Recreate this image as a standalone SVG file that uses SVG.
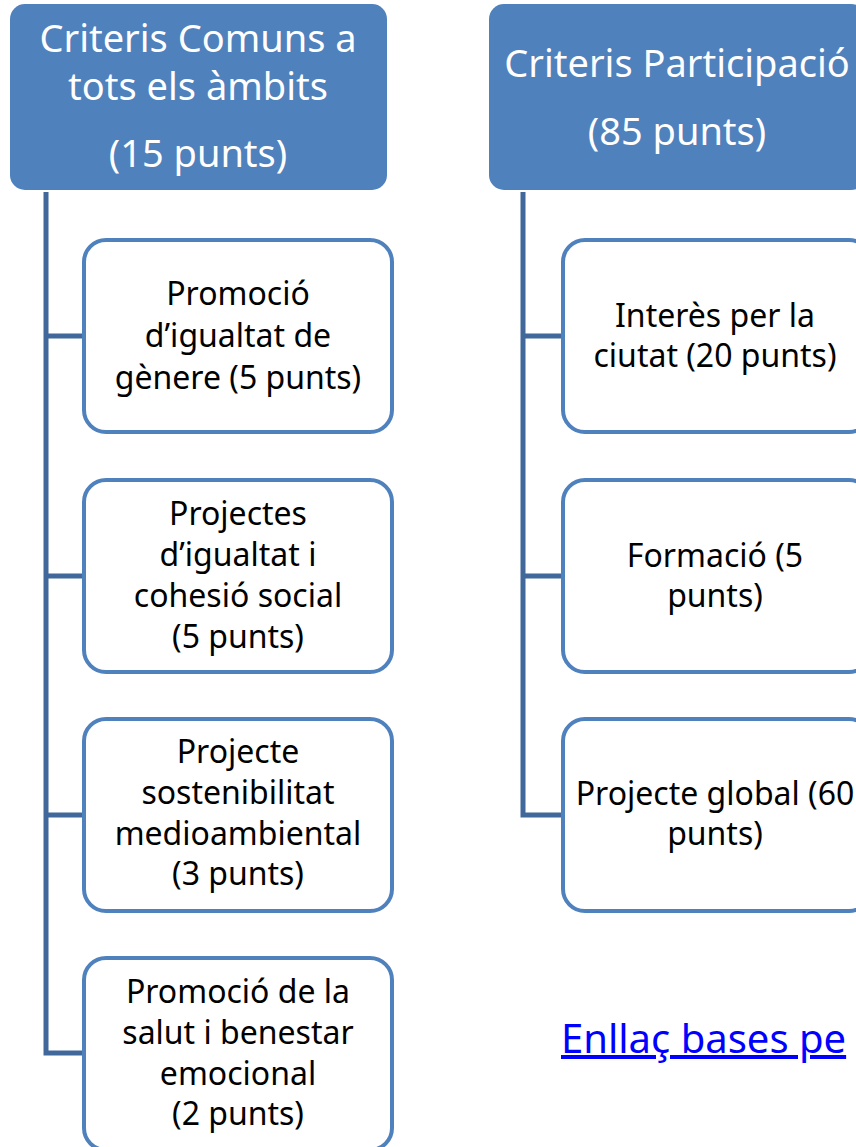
<svg xmlns="http://www.w3.org/2000/svg" width="856" height="1147" viewBox="0 0 856 1147">
<style>
.hdr{fill:#4F81BD}
.hdrt{fill:#FFFFFF;font-family:"Noto Sans","Open Sans",sans-serif;font-size:38px;text-anchor:middle}
.box{fill:#FFFFFF;fill-opacity:0.92;stroke:#4F81BD;stroke-width:4}
.t{fill:#000000;font-family:"Noto Sans","Open Sans",sans-serif;font-size:32px;text-anchor:middle}
.con{fill:none;stroke:#41689A;stroke-width:5;stroke-linejoin:miter}
.link{fill:#0000FF;font-family:"Noto Sans","Open Sans",sans-serif;font-size:40px;text-decoration:underline}
</style>
<rect width="856" height="1147" fill="#FFFFFF"/>
<g id="connectors">
<path class="con" d="M46,192 V1053 H84 M46,336 H84 M46,576 H84 M46,815 H84"/>
<path class="con" d="M523,192 V815 H563 M523,336 H563 M523,576 H563"/>
</g>
<g id="hdr1">
<rect class="hdr" x="10" y="4" width="377" height="186" rx="15"/>
<text class="hdrt" x="198" y="52">Criteris Comuns a</text>
<text class="hdrt" x="198" y="100">tots els àmbits</text>
<text class="hdrt" x="198" y="167">(15 punts)</text>
</g>
<g id="hdr2">
<rect class="hdr" x="489" y="4" width="377" height="186" rx="15"/>
<text class="hdrt" x="677" y="77">Criteris Participació</text>
<text class="hdrt" x="677" y="145">(85 punts)</text>
</g>
<g id="l1">
<rect class="box" x="84" y="240" width="308" height="192" rx="22"/>
<text class="t" x="238" y="305">Promoció</text>
<text class="t" x="238" y="347">d’igualtat de</text>
<text class="t" x="238" y="389">gènere (5 punts)</text>
</g>
<g id="l2">
<rect class="box" x="84" y="480" width="308" height="192" rx="22"/>
<text class="t" x="238" y="525">Projectes</text>
<text class="t" x="238" y="566">d’igualtat i</text>
<text class="t" x="238" y="607">cohesió social</text>
<text class="t" x="238" y="648">(5 punts)</text>
</g>
<g id="l3">
<rect class="box" x="84" y="719" width="308" height="192" rx="22"/>
<text class="t" x="238" y="763">Projecte</text>
<text class="t" x="238" y="804">sostenibilitat</text>
<text class="t" x="238" y="845">medioambiental</text>
<text class="t" x="238" y="885">(3 punts)</text>
</g>
<g id="l4">
<rect class="box" x="84" y="958" width="308" height="192" rx="22"/>
<text class="t" x="238" y="1003">Promoció de la</text>
<text class="t" x="238" y="1044">salut i benestar</text>
<text class="t" x="238" y="1085">emocional</text>
<text class="t" x="238" y="1125">(2 punts)</text>
</g>
<g id="r1">
<rect class="box" x="563" y="240" width="308" height="192" rx="22"/>
<text class="t" x="715" y="327">Interès per la</text>
<text class="t" x="715" y="367">ciutat (20 punts)</text>
</g>
<g id="r2">
<rect class="box" x="563" y="480" width="308" height="192" rx="22"/>
<text class="t" x="715" y="567">Formació (5</text>
<text class="t" x="715" y="607">punts)</text>
</g>
<g id="r3">
<rect class="box" x="563" y="719" width="308" height="192" rx="22"/>
<text class="t" x="715" y="805">Projecte global (60</text>
<text class="t" x="715" y="845">punts)</text>
</g>
<g id="link">
<text class="link" x="561" y="1053">Enllaç bases pe</text>
</g>
</svg>
